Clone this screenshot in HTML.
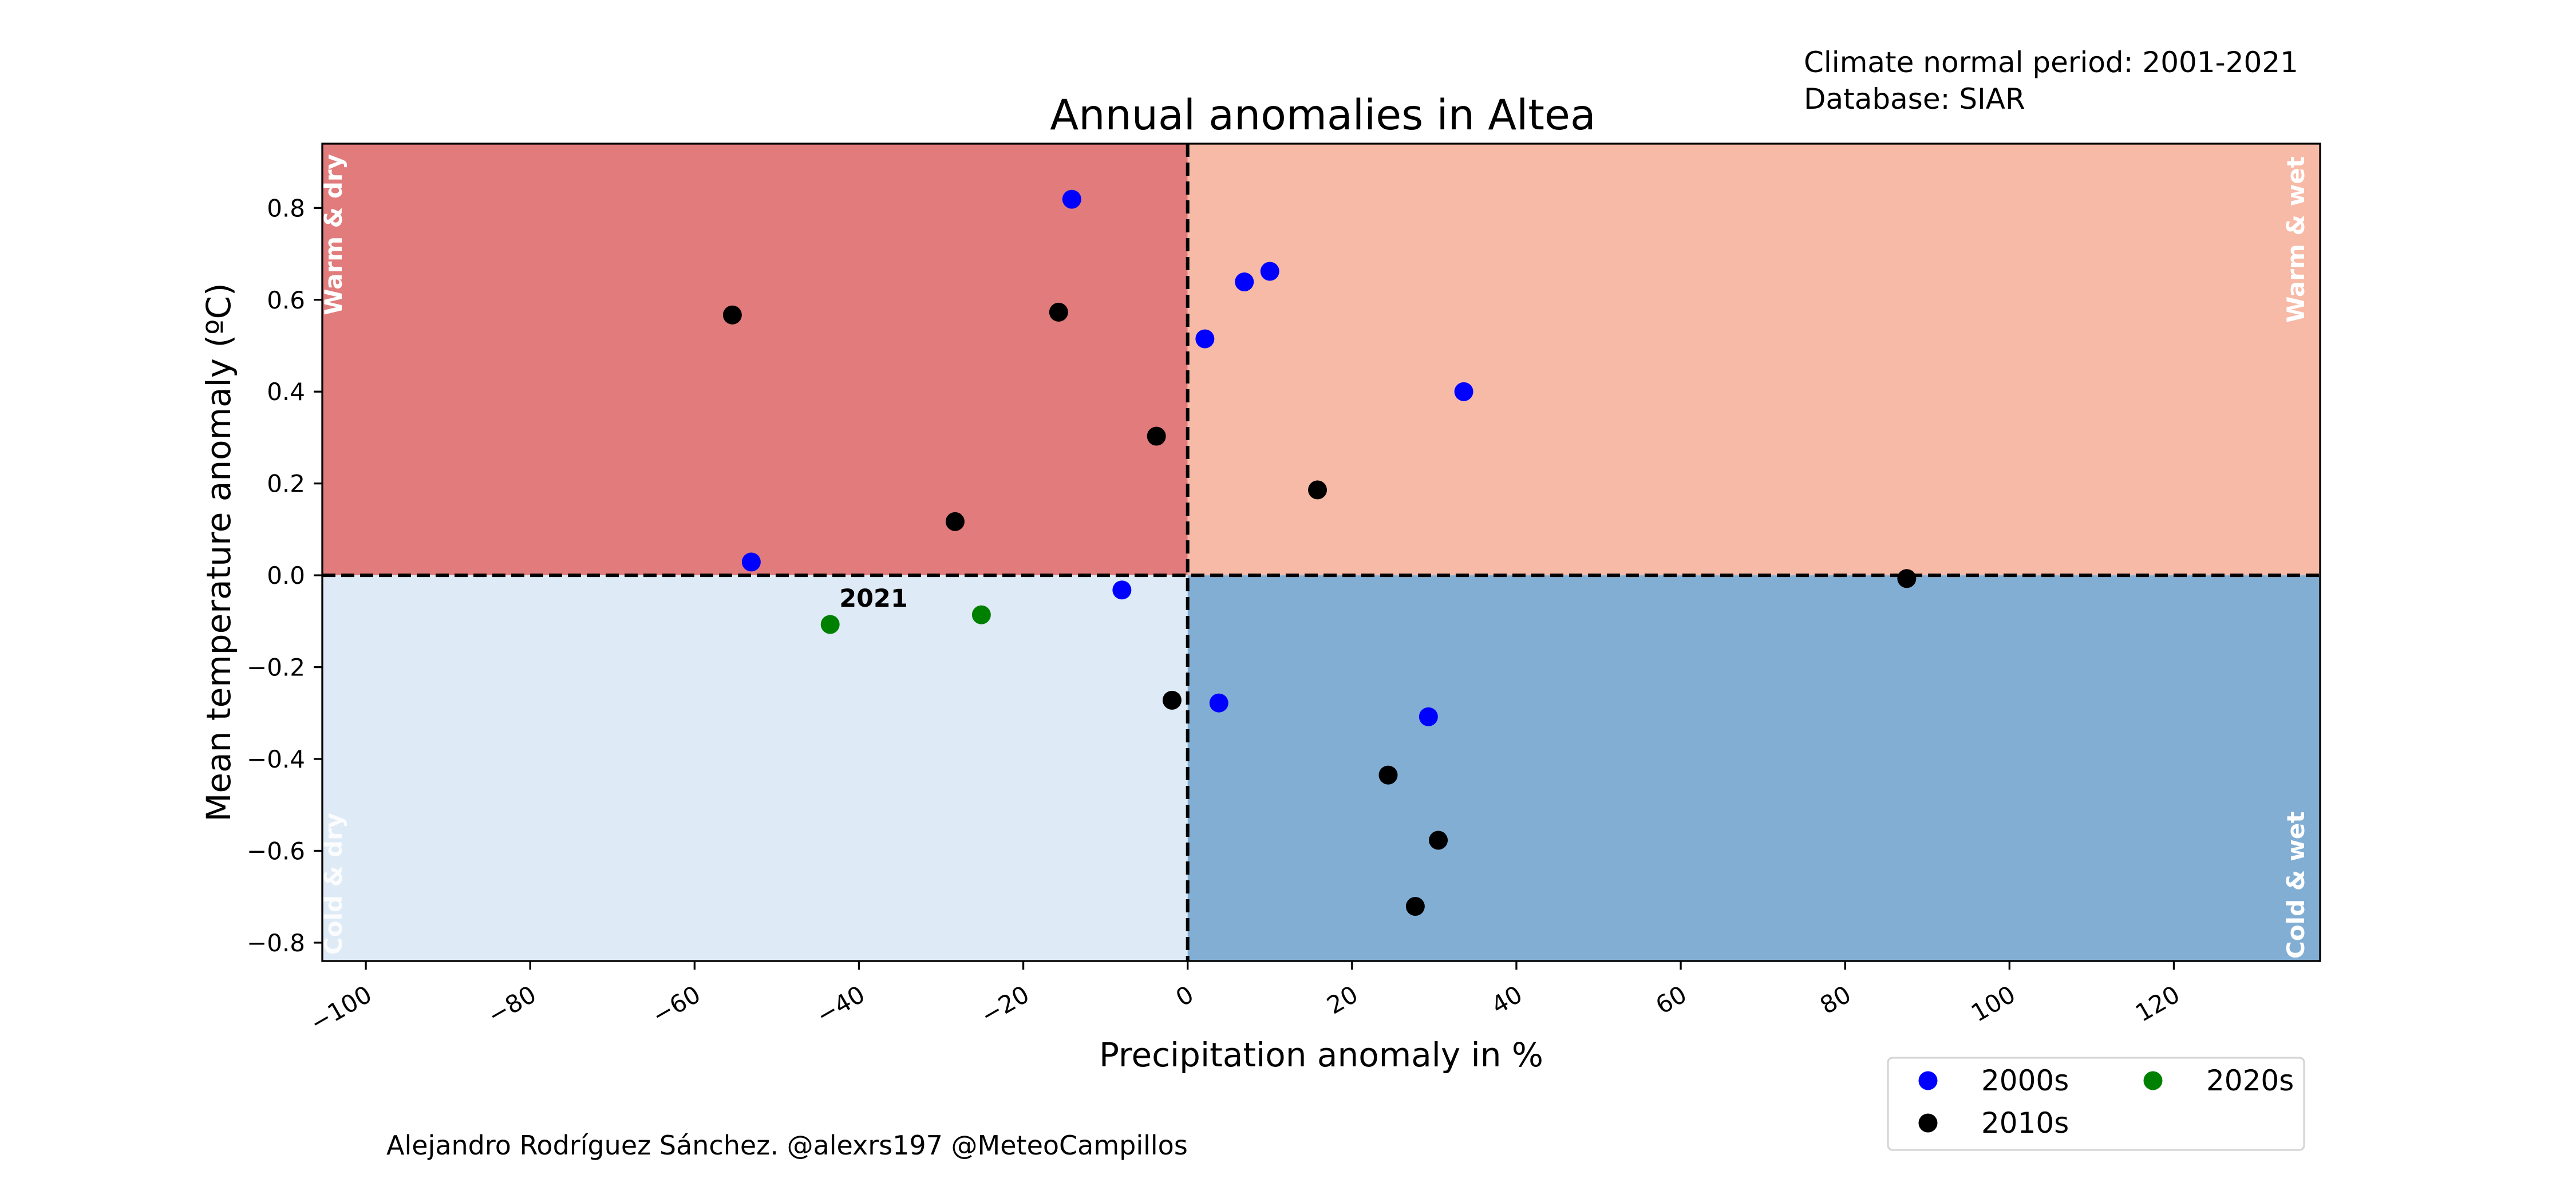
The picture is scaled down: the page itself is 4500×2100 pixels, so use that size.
<!DOCTYPE html>
<html><head><meta charset="utf-8"><style>
html,body{margin:0;padding:0;background:#fff;}
svg{display:block;font-family:"DejaVu Sans","Liberation Sans",sans-serif;}
</style></head><body>
<svg id="chart" width="4500" height="2100" viewBox="0 0 4500 2100" xmlns="http://www.w3.org/2000/svg">
<rect width="4500" height="2100" fill="#fff"/>
<g id="bg"></g>
<g id="ticks"></g>
<g id="marks"></g>
<rect x="563" y="251" width="3490" height="1428" fill="none" stroke="#000" stroke-width="3.3"/>
<text x="2311" y="226" font-size="73" text-anchor="middle">Annual anomalies in Altea</text>
<text x="3151" y="126" font-size="50">Climate normal period: 2001-2021</text>
<text x="3151" y="190" font-size="50">Database: SIAR</text>
<text x="2308" y="1863" font-size="58" text-anchor="middle">Precipitation anomaly in %</text>
<text transform="translate(402,965) rotate(-90)" font-size="58" text-anchor="middle">Mean temperature anomaly (ºC)</text>
<text x="675" y="2017" font-size="46">Alejandro Rodríguez Sánchez. @alexrs197 @MeteoCampillos</text>
<g>
<rect x="3298" y="1848" width="727" height="161" rx="8" fill="#fff" stroke="#d6d6d6" stroke-width="3.3"/>
<circle cx="3368" cy="1888" r="16.5" fill="#0000ff"/>
<text x="3461" y="1905" font-size="50">2000s</text>
<circle cx="3368" cy="1962" r="16.5" fill="#000"/>
<text x="3461" y="1979" font-size="50">2010s</text>
<circle cx="3761" cy="1888" r="16.5" fill="#008000"/>
<text x="3854" y="1905" font-size="50">2020s</text>
</g>
</svg>
<script>
const xTicks=[-100,-80,-60,-40,-20,0,20,40,60,80,100,120];
const yTicks=[-0.8,-0.6,-0.4,-0.2,0.0,0.2,0.4,0.6,0.8];
const x2000s=[-14.1,-53.1,-8.0,2.1,6.9,10.0,33.6,3.8,29.3];
const y2000s=[0.819,0.029,-0.032,0.515,0.639,0.662,0.400,-0.278,-0.308];
const x2010s=[-55.4,-15.7,-3.8,-28.3,15.8,87.5,-1.9,24.4,30.5,27.7];
const y2010s=[0.567,0.573,0.303,0.117,0.186,-0.007,-0.272,-0.435,-0.577,-0.721];
const x2020s=[-25.1,-43.5];
const y2020s=[-0.086,-0.107];
const labelYear="2021";

const X0=563,X1=4053,Y0=1679,Y1=251;
const XMIN=-105.3,XMAX=137.8,YMIN=-0.84,YMAX=0.94;
function sx(v){return X0+(v-XMIN)/(XMAX-XMIN)*(X1-X0);}
function sy(v){return Y0-(v-YMIN)/(YMAX-YMIN)*(Y0-Y1);}
const NS="http://www.w3.org/2000/svg";
function mk(tag,attrs,parent){const e=document.createElementNS(NS,tag);for(const k in attrs)e.setAttribute(k,attrs[k]);parent.appendChild(e);return e;}
const bg=document.getElementById('bg'),tk=document.getElementById('ticks'),mg=document.getElementById('marks');
const zx=sx(0),zy=sy(0);
let r;
r=mk('rect',{x:X0,y:Y1,width:zx-X0,height:zy-Y1,fill:'#e17b7c'},bg);


r=mk('rect',{x:zx,y:Y1,width:X1-zx,height:zy-Y1,fill:'#f7baa7'},bg);


r=mk('rect',{x:X0,y:zy,width:zx-X0,height:Y0-zy,fill:'#deeaf5'},bg);


r=mk('rect',{x:zx,y:zy,width:X1-zx,height:Y0-zy,fill:'#82aed4'},bg);


let l;
l=mk('line',{x1:X0,x2:X1,y1:zy,y2:zy,stroke:'#000','stroke-width':6,'stroke-dasharray':'23 10'},bg);


l=mk('line',{x1:zx,x2:zx,y1:Y1,y2:Y0,stroke:'#000','stroke-width':6,'stroke-dasharray':'23 10'},bg);


const quads=[["Warm & dry",597,269,'end','quadrant-label-warm-dry',1],["Cold & dry",597,1668,'start','quadrant-label-cold-dry',0.85],["Warm & wet",4025,273,'end','quadrant-label-warm-wet',1],["Cold & wet",4025,1675,'start','quadrant-label-cold-wet',1]];
quads.forEach(q=>{const t=mk('text',{transform:`translate(${q[1]},${q[2]}) rotate(-90)`,'text-anchor':q[3],'font-size':42,'font-weight':'bold',fill:'#fff','fill-opacity':q[5]},bg);t.textContent=q[0];

});
xTicks.forEach(v=>{const x=sx(v);
const tl=mk('line',{x1:x,x2:x,y1:Y0,y2:Y0+15,stroke:'#000','stroke-width':3.3},tk);


const t=mk('text',{transform:`translate(${x-2},${Y0+40}) rotate(-30)`,'text-anchor':'end','dominant-baseline':'hanging','font-size':42},tk);
t.textContent=String(v).replace('-','\u2212');

});
yTicks.forEach(v=>{const y=sy(v);
const tl=mk('line',{x1:X0-15,x2:X0,y1:y,y2:y,stroke:'#000','stroke-width':3.3},tk);


const t=mk('text',{x:X0-30,y:y+15,'text-anchor':'end','font-size':42},tk);
t.textContent=v.toFixed(1).replace('-','\u2212');

});
function series(xs,ys,color,name){xs.forEach((v,i)=>{const c=mk('circle',{cx:sx(v),cy:sy(ys[i]),r:16.5,fill:color},mg);

});}
series(x2000s,y2000s,'#0000ff','point-2000s');
series(x2010s,y2010s,'#000000','point-2010s');
series(x2020s,y2020s,'#008000','point-2020s');
const lbl=mk('text',{x:sx(x2020s[1])+16,y:sy(y2020s[1])-31,'font-size':43,'font-weight':'bold'},mg);
lbl.textContent=labelYear;


</script>
</body></html>
